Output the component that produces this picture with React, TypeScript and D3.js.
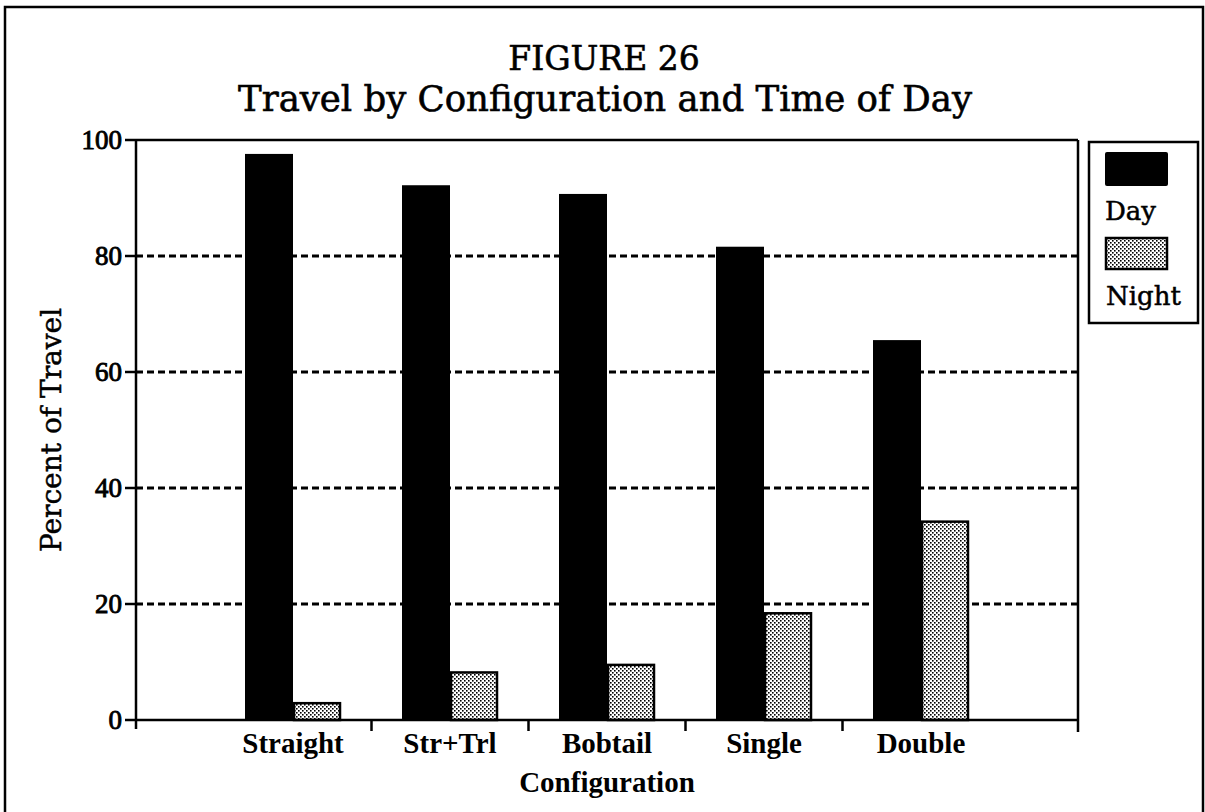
import React from "react";
import * as d3 from "d3";

const categories = ["Straight", "Str+Trl", "Bobtail", "Single", "Double"];
const dayValues = [97.6, 92.2, 90.7, 81.6, 65.5];
const nightValues = [2.9, 8.2, 9.5, 18.4, 34.2];
const yTicks = [0, 20, 40, 60, 80, 100];
const gridTicks = [20, 40, 60, 80];
const seriesNames = ["Day", "Night"];
const titleLines = ["FIGURE 26", "Travel by Configuration and Time of Day"];
const xTitle = "Configuration";
const yTitle = "Percent of Travel";

const W = 1205;
const H = 812;
const left = 136;
const right = 1078;
const top = 140;
const bottom = 720;
const barW = 48;

const serif = "'DejaVu Serif', 'Liberation Serif', serif";
const times = "'Liberation Serif', 'DejaVu Serif', serif";

export default function App() {
  const x = d3.scalePoint<string>().domain(categories).range([left, right]).padding(1);
  const y = d3.scaleLinear().domain([0, 100]).range([bottom, top]);
  const step = x.step();
  const midTicks = categories.slice(0, -1).map((c) => (x(c) as number) + step / 2);

  return (
    <svg
      width={W}
      height={H}
      style={{ position: "absolute", left: 0, top: 0, background: "#fff" }}
    >
      <defs>
        <pattern id="stipple" width="4" height="4" patternUnits="userSpaceOnUse">
          <rect width="4" height="4" fill="#fff" />
          <rect x="0" y="0" width="1.6" height="1.6" fill="#000" />
          <rect x="2" y="2" width="1.6" height="1.6" fill="#000" />
        </pattern>
      </defs>

      {/* outer frame */}
      <rect x={5} y={7} width={1198} height={810} fill="none" stroke="#000" strokeWidth={2.5} />

      {/* titles */}
      <text x={604} y={70} textAnchor="middle" fontFamily={serif} fontSize={33} fill="#000" stroke="#000" strokeWidth={0.6}>
        {titleLines[0]}
      </text>
      <text x={605} y={111} textAnchor="middle" fontFamily={serif} fontSize={35.5} fill="#000" stroke="#000" strokeWidth={0.6}>
        {titleLines[1]}
      </text>

      {/* gridlines */}
      {gridTicks.map((t) => (
        <line
          key={"g" + t}
          x1={left}
          x2={right}
          y1={y(t)}
          y2={y(t)}
          stroke="#000"
          strokeWidth={3}
          strokeDasharray="7,4"
        />
      ))}

      {/* bars */}
      {categories.map((c, i) => {
        const cx = x(c) as number;
        return (
          <g key={c}>
            <rect x={cx - barW} y={y(dayValues[i])} width={barW} height={bottom - y(dayValues[i])} fill="#000" />
            <rect
              x={cx + 1}
              y={y(nightValues[i])}
              width={barW - 2}
              height={bottom - y(nightValues[i])}
              fill="url(#stipple)"
              stroke="#000"
              strokeWidth={2.5}
            />
          </g>
        );
      })}

      {/* plot frame */}
      <line x1={left} x2={right} y1={top} y2={top} stroke="#000" strokeWidth={2.5} />
      <line x1={left} x2={right} y1={bottom} y2={bottom} stroke="#000" strokeWidth={2.5} />
      <line x1={left} x2={left} y1={top} y2={729} stroke="#000" strokeWidth={2.5} />
      <line x1={right} x2={right} y1={top} y2={732} stroke="#000" strokeWidth={2.5} />

      {/* y ticks */}
      {yTicks.map((t) => (
        <g key={"y" + t}>
          <line x1={125} x2={left} y1={y(t)} y2={y(t)} stroke="#000" strokeWidth={2.5} />
          <text
            x={122}
            y={y(t)}
            dy="0.34em"
            textAnchor="end"
            fontFamily={times}
            fontSize={27}
            fill="#000"
            stroke="#000"
            strokeWidth={0.9}
          >
            {t}
          </text>
        </g>
      ))}

      {/* x ticks between categories */}
      {midTicks.map((mx, i) => (
        <line key={"xt" + i} x1={mx} x2={mx} y1={bottom} y2={731} stroke="#000" strokeWidth={2.5} />
      ))}

      {/* x labels */}
      {categories.map((c) => (
        <text
          key={"xl" + c}
          x={x(c) as number}
          y={753}
          textAnchor="middle"
          fontFamily={times}
          fontWeight="bold"
          fontSize={29}
          fill="#000"
        >
          {c}
        </text>
      ))}

      <text
        x={(left + right) / 2}
        y={792}
        textAnchor="middle"
        fontFamily={times}
        fontWeight="bold"
        fontSize={29}
        fill="#000"
      >
        {xTitle}
      </text>

      <text
        transform="translate(61,430) rotate(-90)"
        textAnchor="middle"
        fontFamily={serif}
        fontSize={28}
        fill="#000"
        stroke="#000"
        strokeWidth={0.5}
      >
        {yTitle}
      </text>

      {/* legend */}
      <rect x={1089} y={142} width={109} height={181} fill="#fff" stroke="#000" strokeWidth={2.5} />
      <rect x={1105} y={152} width={63} height={34} rx={2} fill="#000" />
      <text x={1105} y={220} fontFamily={serif} fontSize={26} fill="#000" stroke="#000" strokeWidth={0.5}>
        {seriesNames[0]}
      </text>
      <rect x={1106} y={238} width={61} height={31} fill="url(#stipple)" stroke="#000" strokeWidth={2.5} />
      <text x={1106} y={305} fontFamily={serif} fontSize={26} fill="#000" stroke="#000" strokeWidth={0.5}>
        {seriesNames[1]}
      </text>
    </svg>
  );
}
